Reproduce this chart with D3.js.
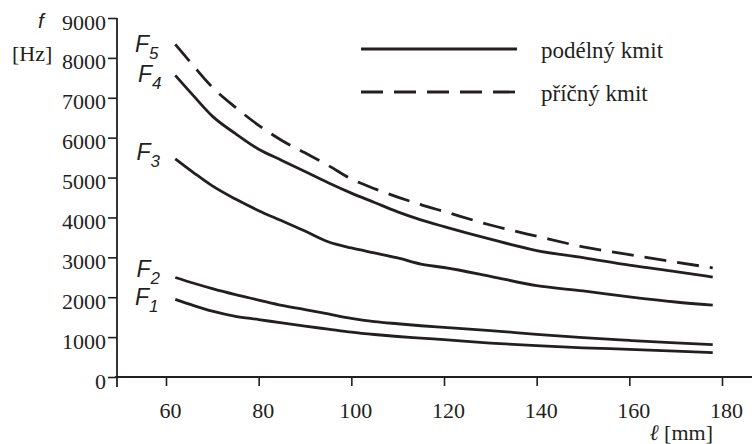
<!DOCTYPE html>
<html>
<head>
<meta charset="utf-8">
<script src="https://cdn.jsdelivr.net/npm/d3@7/dist/d3.min.js"></script>
<style>
  html, body { margin: 0; padding: 0; background: #fff; }
  svg { display: block; }
</style>
</head>
<body>
<svg id="chart" width="754" height="444"></svg>
<script>
// ---- data ----
const lengths = [62, 66, 70, 75, 80, 85, 90, 95, 100, 105, 110, 115, 120, 130, 140, 150, 160, 170, 178];
const f1 = [1945, 1790, 1650, 1520, 1440, 1355, 1275, 1200, 1125, 1065, 1015, 975, 935, 850, 785, 732, 694, 650, 612];
const f2 = [2495, 2350, 2215, 2065, 1930, 1795, 1688, 1580, 1470, 1390, 1335, 1285, 1245, 1165, 1070, 985, 918, 855, 813];
const f3 = [5470, 5120, 4790, 4460, 4170, 3915, 3660, 3390, 3235, 3110, 2985, 2830, 2745, 2525, 2290, 2158, 2010, 1880, 1800];
const f4 = [7560, 7040, 6540, 6100, 5710, 5430, 5150, 4870, 4610, 4375, 4140, 3940, 3770, 3455, 3170, 2995, 2805, 2640, 2505];
const f5 = [8340, 7790, 7265, 6760, 6310, 5930, 5620, 5305, 4965, 4720, 4510, 4320, 4150, 3810, 3530, 3265, 3070, 2880, 2735];
const seriesNames = ["F1", "F2", "F3", "F4", "F5"];
const seriesKinds = ["podélný", "podélný", "podélný", "podélný", "příčný"];
const xTicks = [60, 80, 100, 120, 140, 160, 180];
const yTicks = [0, 1000, 2000, 3000, 4000, 5000, 6000, 7000, 8000, 9000];
const legendLabels = ["podélný kmit", "příčný kmit"];

// ---- layout ----
const ink = "#231f20";
const serif = "Liberation Serif";
const sans = "Liberation Sans";
const svg = d3.select("#chart");

const x = d3.scaleLinear().domain([60, 180]).range([166, 722]);
const y = d3.scaleLinear().domain([0, 9000]).range([377, 18]);
const axisX0 = 117, axisX1 = 752;

// y axis
const gy = svg.append("g").attr("transform", `translate(${axisX0},0)`)
  .call(d3.axisLeft(y).tickValues(yTicks).tickSize(9).tickPadding(2).tickFormat(d => String(d)));
gy.attr("font-family", serif).attr("font-size", 22);
gy.select(".domain").remove();
gy.selectAll(".tick line").attr("stroke", ink).attr("stroke-width", 1.6);
gy.selectAll(".tick text").attr("font-family", serif).attr("font-size", 22).attr("fill", ink)
  .attr("dy", "0.5em");
svg.append("line").attr("x1", axisX0).attr("x2", axisX0).attr("y1", y(9000)).attr("y2", y(0) + 10)
  .attr("stroke", ink).attr("stroke-width", 1.8);

// x axis
const gx = svg.append("g").attr("transform", `translate(0,${y(0)})`)
  .call(d3.axisBottom(x).tickValues(xTicks).tickSize(9).tickFormat(d => String(d)));
gx.attr("font-family", serif).attr("font-size", 22);
gx.select(".domain").remove();
gx.selectAll(".tick line").attr("stroke", ink).attr("stroke-width", 1.6);
gx.selectAll(".tick text").attr("font-family", serif).attr("font-size", 22).attr("fill", ink)
  .attr("y", 41).attr("dy", 0).attr("x", 4);
svg.append("line").attr("x1", axisX0 - 2).attr("x2", axisX1).attr("y1", y(0)).attr("y2", y(0))
  .attr("stroke", ink).attr("stroke-width", 1.8);

// axis titles
svg.append("text").attr("font-family", sans).attr("x", 41).attr("y", 28).attr("text-anchor", "middle")
  .attr("font-style", "italic").attr("font-size", 21).attr("fill", ink).text("f");
svg.append("text").attr("font-family", serif).attr("x", 12).attr("y", 61)
  .attr("font-size", 22).attr("fill", ink).text("[Hz]");
const xt = svg.append("text").attr("font-family", serif).attr("x", 713).attr("y", 440).attr("text-anchor", "end")
  .attr("font-size", 22).attr("fill", ink);
xt.append("tspan").attr("font-style", "italic").text("ℓ");
xt.append("tspan").text(" [mm]");

// curves
const allSeries = [f1, f2, f3, f4, f5];
const line = d3.line().x((d, i) => x(lengths[i])).y(d => y(d)).curve(d3.curveMonotoneX);
svg.append("g").selectAll("path").data(allSeries).join("path")
  .attr("d", d => line(d))
  .attr("fill", "none").attr("stroke", ink).attr("stroke-width", 2.8)
  .attr("stroke-linejoin", "round")
  .attr("stroke-dasharray", (d, i) => seriesKinds[i] === "příčný" ? "22,11" : null);

// curve labels
const labelPos = [
  { x: 135, y: 305 },
  { x: 136.5, y: 277 },
  { x: 136.5, y: 159.5 },
  { x: 138, y: 82 },
  { x: 135, y: 52 }
];
seriesNames.forEach((name, i) => {
  const t = svg.append("text").attr("font-family", sans).attr("x", labelPos[i].x).attr("y", labelPos[i].y)
    .attr("font-style", "italic").attr("font-size", 23).attr("fill", ink);
  t.append("tspan").text(name[0]);
  t.append("tspan").attr("font-size", 17).attr("dy", 7).text(name.slice(1));
});

// legend
const legendY = [49, 92];
legendLabels.forEach((lab, i) => {
  svg.append("line").attr("x1", 361).attr("x2", 517).attr("y1", legendY[i]).attr("y2", legendY[i])
    .attr("stroke", ink).attr("stroke-width", 2.8)
    .attr("stroke-dasharray", i === 1 ? "22,11" : null);
  svg.append("text").attr("font-family", serif).attr("x", 541).attr("y", legendY[i] + 9)
    .attr("font-size", 23).attr("fill", ink).text(lab);
});
</script>
</body>
</html>
